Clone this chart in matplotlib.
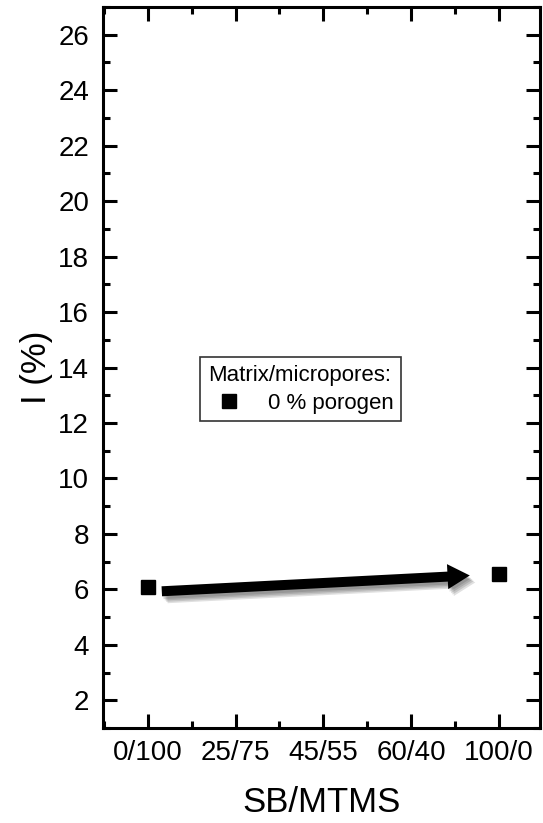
import matplotlib
matplotlib.use('Agg')
import matplotlib.pyplot as plt
import matplotlib.patheffects as pe
from matplotlib.ticker import MultipleLocator

plt.rcParams['font.family'] = ['Liberation Sans', 'DejaVu Sans']

# data
categories = ['0/100', '25/75', '45/55', '60/40', '100/0']
point_idx = [0, 4]
intensity = [6.1, 6.55]
series_label = '0 % porogen'
legend_title = 'Matrix/micropores:'

# arrow (annotation) from/to in data coordinates
arrow_start = (0.16, 5.93)
arrow_end = (3.67, 6.50)

fig = plt.figure(figsize=(5.43, 8.23), dpi=100)
ax = fig.add_axes([103 / 543, 1 - 728 / 823, 437 / 543, 721 / 823])

ax.plot(point_idx, intensity, 's', color='black', ms=10.5,
        linestyle='none', label=series_label)

# soft shadow made from a few offset layers
shadow = [pe.SimplePatchShadow(offset=(1 + k, -2 - k), alpha=0.12,
                               shadow_rgbFace='black') for k in range(4)]
ax.annotate(
    '', xy=arrow_end, xytext=arrow_start,
    arrowprops=dict(
        arrowstyle='simple,head_length=0.8,head_width=0.9,tail_width=0.36',
        color='black', lw=0, mutation_scale=20,
        shrinkA=0, shrinkB=0,
        path_effects=shadow + [pe.Normal()],
    ),
)

ax.set_xlim(-0.51, 4.47)
ax.set_ylim(1, 27)
ax.set_xticks(range(len(categories)))
ax.set_xticklabels(categories)
ax.xaxis.set_minor_locator(MultipleLocator(0.5))
ax.set_yticks(range(2, 27, 2))
ax.yaxis.set_minor_locator(MultipleLocator(1))

ax.tick_params(which='both', direction='in', top=True, right=True,
               width=2.2, labelsize=20, color='black')
ax.tick_params(which='major', length=10)
ax.tick_params(which='minor', length=5)
ax.tick_params(axis='y', pad=10)
ax.tick_params(axis='x', pad=9)
for s in ax.spines.values():
    s.set_linewidth(2.2)

ax.set_xlabel('SB/MTMS', fontsize=25, labelpad=14)
ax.set_ylabel('I (%)', fontsize=25, labelpad=4)

leg = ax.legend(title=legend_title, loc='upper left',
                bbox_to_anchor=(0.222, 0.5146), borderaxespad=0,
                fontsize=16, title_fontsize=16, fancybox=False,
                edgecolor='#333333', framealpha=1, handletextpad=0.8,
                handlelength=1.9, borderpad=0.35, labelspacing=0.3)
leg._legend_box.align = 'left'
leg._legend_box.sep = 5
leg.get_frame().set_linewidth(1.2)

fig.savefig('out.png', dpi=100)
